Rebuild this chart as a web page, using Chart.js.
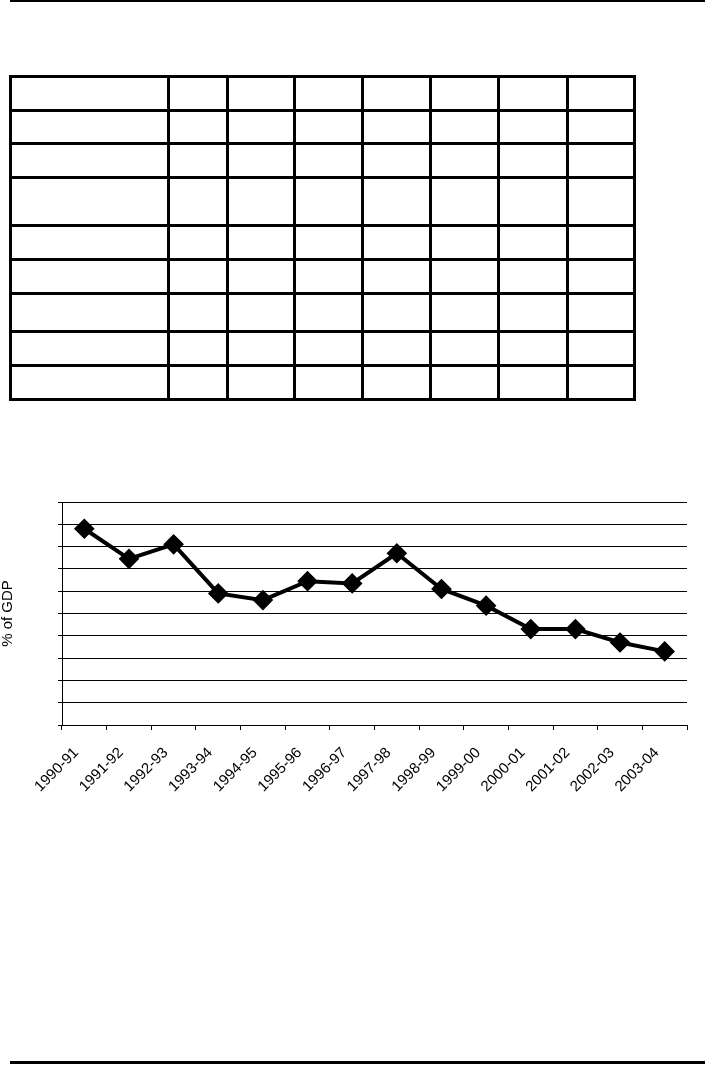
<!DOCTYPE html>
<html>
<head>
<meta charset="utf-8">
<script src="https://cdn.jsdelivr.net/npm/chart.js@4.4.1/dist/chart.umd.min.js"></script>
<style>
  html, body { margin: 0; padding: 0; background: #fff; }
  body { width: 705px; height: 1066px; position: relative; overflow: hidden; font-family: "Liberation Sans", Arial, sans-serif; }
  .rule { position: absolute; left: 10px; width: 695px; background: #000; }
  .line { position: absolute; background: #000; }
  #chartBox { position: absolute; left: 0; top: 480px; width: 705px; height: 360px; }
</style>
</head>
<body>
<div class="rule" style="top:0;height:2px"></div>
<div id="grid"></div>
<div id="chartBox"><canvas id="gdpChart"></canvas></div>
<div class="rule" style="top:1061px;height:3px"></div>

<script>
// chart data
const years = ["1990-91", "1991-92", "1992-93", "1993-94", "1994-95", "1995-96", "1996-97",
               "1997-98", "1998-99", "1999-00", "2000-01", "2001-02", "2002-03", "2003-04"];
const pctOfGdp = [8.8, 7.45, 8.1, 5.9, 5.6, 6.45, 6.35, 7.7, 6.1, 5.35, 4.3, 4.3, 3.7, 3.3];
const yMin = 0;
const yMax = 10;
const yStep = 1;

// empty table above the chart (border centre lines)
const tableCols = [10, 168, 227, 294, 362, 430, 498, 567, 634];
const tableRows = [76, 110, 143, 177, 225, 259, 293, 331, 365, 399];
const grid = document.getElementById("grid");
function addLine(x, y, w, h) {
    const d = document.createElement("div");
    d.className = "line";
    d.style.left = x + "px"; d.style.top = y + "px";
    d.style.width = w + "px"; d.style.height = h + "px";
    grid.appendChild(d);
}
const top0 = tableRows[0] - 1.5, bot0 = tableRows[tableRows.length - 1] + 1.5;
const left0 = tableCols[0] - 1.5, right0 = tableCols[tableCols.length - 1] + 1.5;
tableCols.forEach(x => addLine(x - 1.5, top0, 3, bot0 - top0));
tableRows.forEach(y => addLine(left0, y - 1.5, right0 - left0, 3));

const font = { family: "'Liberation Sans', Arial, sans-serif", size: 15 };

new Chart(document.getElementById("gdpChart"), {
    type: "line",
    data: {
        labels: years,
        datasets: [{
            data: pctOfGdp,
            borderColor: "#000",
            borderWidth: 4,
            backgroundColor: "#000",
            pointStyle: "rectRot",
            pointRadius: 7.5,
            pointBackgroundColor: "#000",
            pointBorderColor: "#000",
            tension: 0,
            fill: false
        }]
    },
    options: {
        responsive: true,
        maintainAspectRatio: false,
        animation: false,
        layout: { padding: { top: 22, left: 0, right: 18, bottom: 0 } },
        plugins: {
            legend: { display: false },
            tooltip: { enabled: false }
        },
        scales: {
            x: {
                offset: true,
                grid: { offset: true, drawOnChartArea: false, tickLength: 5, tickColor: "#000", color: "#000" },
                border: { color: "#000", width: 1 },
                ticks: { color: "#000", font: font, minRotation: 45, maxRotation: 45, autoSkip: false, padding: 14, labelOffset: -8 },
                afterFit: function(scale) { scale.height = 115; }
            },
            y: {
                min: yMin,
                max: yMax,
                ticks: { stepSize: yStep, display: false },
                grid: { color: "#000", lineWidth: 1, tickLength: 4, tickColor: "#000" },
                border: { color: "#000", width: 1 },
                title: {
                    display: true,
                    text: "% of GDP",
                    color: "#000",
                    font: { family: font.family, size: 15, lineHeight: 1.1 },
                    padding: 0
                },
                afterFit: function(scale) { scale.width = 62; }
            }
        }
    }
});
</script>
</body>
</html>
